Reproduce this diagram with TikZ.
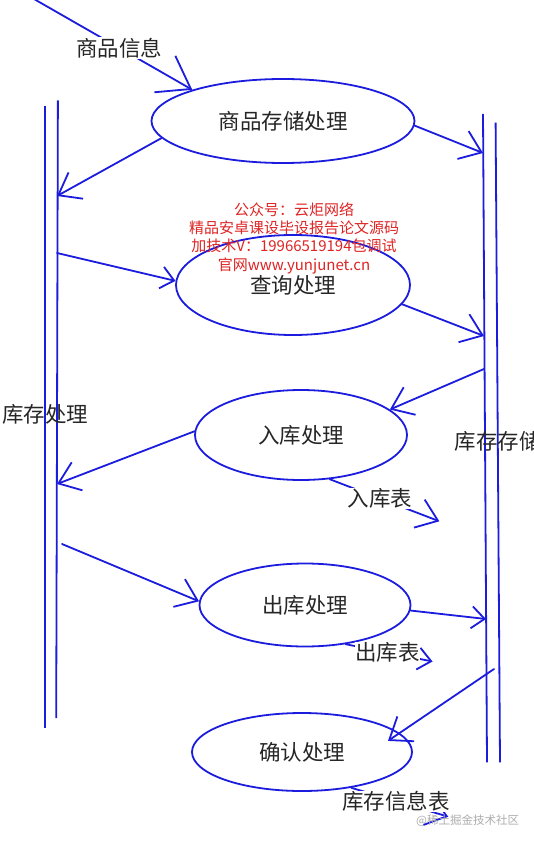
\documentclass[tikz,border=0pt]{standalone}
\usepackage{fontspec}
\usepackage{tikz}
\usetikzlibrary{arrows.meta}
\usetikzlibrary{shapes.geometric}
\newfontfamily\cjk{Noto Sans CJK SC}
\definecolor{flowblue}{RGB}{28,28,222}
\definecolor{adred}{RGB}{222,36,36}

\begin{document}
\begin{tikzpicture}[x=1pt,y=-1pt,>={Straight Barb[length=20pt,width=30pt]},
	proc/.style={ellipse,draw=flowblue,line width=1.8pt,inner sep=0pt,text=black!85,font=\cjk\fontsize{21.5}{24}\selectfont},
	flow/.style={->,draw=flowblue,line width=1.8pt,line cap=round},
	bar/.style={draw=flowblue,line width=1.8pt},
	tag/.style={fill=white,inner sep=0.5pt,text=black!85,font=\cjk\fontsize{21.5}{24}\selectfont},
	side/.style={inner sep=0pt,text=black!85,font=\cjk\fontsize{21.5}{24}\selectfont},
	tipbig/.style={>={Straight Barb[length=30pt,width=42pt]}},
	tipsmall/.style={>={Straight Barb[length=13pt,width=22pt]}}]
			\fill[white](0,0)rectangle(534,842);
			\useasboundingbox(0,0)rectangle(534,842);
			\draw[bar](45.3,105.6)--(45.3,728.4);
			\draw[bar](57.9,100.5)--(56.2,718.2);
			\draw[bar](483,114)--(487,762.4);
			\draw[bar](495.6,122.6)--(500,762.4);
			\node[proc,minimum width=263,minimum height=84](ps)at(283,121){商品存储处理};
			\node[proc,minimum width=234,minimum height=100](qy)at(293,285){查询处理};
			\node[proc,minimum width=212,minimum height=90](rk)at(301,435){入库处理};
			\node[proc,minimum width=211,minimum height=83](ck)at(305,605){出库处理};
			\node[proc,minimum width=220,minimum height=78](qr)at(302,752){确认处理};
			\node[side](lp)at(45,414){库存处理};
			\node[side,anchor=west](rp)at(454.7,441){库存存储};
			\coordinate(src)at(34,-1);
			\coordinate(lb1)at(57,196);
			\coordinate(lb2)at(57,253);
			\coordinate(lb3)at(57,484);
			\coordinate(lb4)at(62,544);
			\coordinate(rb1)at(483,153);
			\coordinate(rb2)at(484,336);
			\coordinate(rb3)at(484,369);
			\coordinate(rb4)at(486,619);
			\coordinate(rb5)at(494,669);
			\coordinate(gt)at(439.4,521.3);
			\coordinate(jt)at(432.5,661.5);
			\coordinate(lt)at(448.3,816.7);
			\draw(src)edge[flow,tipbig]node[tag,pos=.54]{商品信息}(ps.161);
			\draw(ps.188)edge[flow](lb1);
			\draw(ps.-2)edge[flow](rb1);
			\draw(lb2)edge[flow,tipsmall](qy.178);
			\draw(qy.-10)edge[flow](rb2);
			\draw(rb3)edge[flow](rk.16);
			\draw(rk.178)edge[flow](lb3);
			\draw(rk.-57)edge[flow]node[tag,pos=.46]{入库表}(gt);
			\draw(lb4)edge[flow](ck.178);
			\draw(ck.-3)edge[flow,tipsmall](rb4);
			\draw(ck.-44)edge[flow,tipsmall]node[tag,pos=.48]{出库表}(jt);
			\draw(rb5)edge[flow,shorten >=-14pt](qr.11);
			\draw(qr.-36)edge[flow]node[tag,pos=.46]{库存信息表}(lt);
			\node[align=center,inner sep=0pt,text=adred,font=\cjk\fontsize{15}{18.3}\selectfont](ad)at(294,238){公众号：云炬网络\\精品安卓课设毕设报告论文源码\\加技术V：19966519194包调试\\官网www.yunjunet.cn};
			\node[anchor=west,inner sep=0pt,text=black!32,font=\cjk\fontsize{11.5}{13}\selectfont](wm)at(416,821){@稀土掘金技术社区};
		\end{tikzpicture}
\end{document}
